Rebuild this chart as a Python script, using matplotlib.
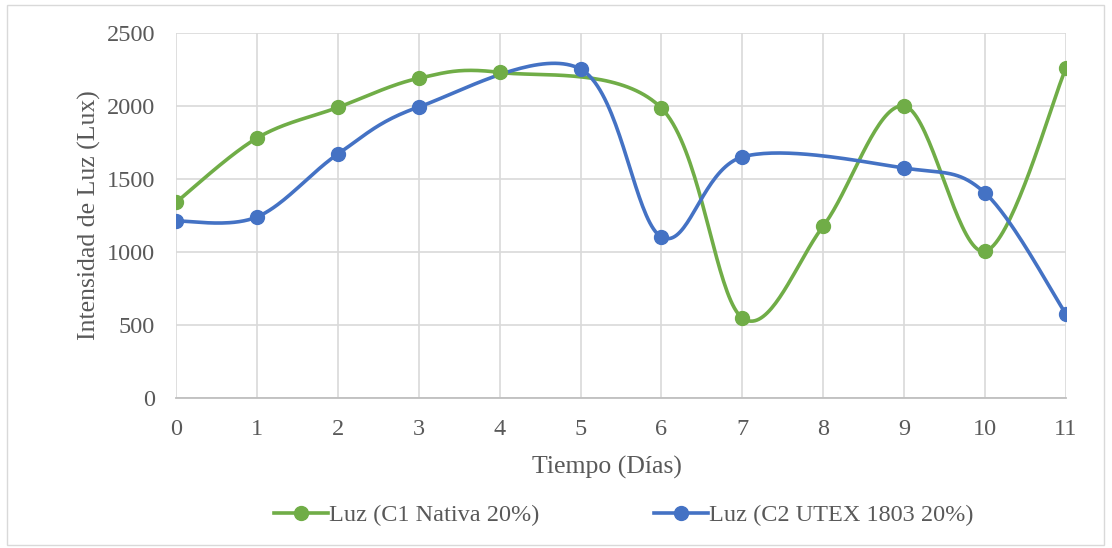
import numpy as np
import matplotlib
matplotlib.use("Agg")
import matplotlib.pyplot as plt
from matplotlib.lines import Line2D
from matplotlib.patches import Rectangle

days = [0, 1, 2, 3, 4, 5, 6, 7, 8, 9, 10, 11]
c1_nativa = [1340, 1780, 1990, 2190, 2230, np.nan, 1985, 548, 1178, 2000, 1005, 2260]
c2_utex = [1212, 1240, 1671, 1993, np.nan, 2253, 1103, 1651, np.nan, 1575, 1404, 575]
y_ticks = [0, 500, 1000, 1500, 2000, 2500]
labels = ["Luz (C1 Nativa 20%)", "Luz (C2 UTEX 1803 20%)"]
colors = ["#70AD47", "#4472C4"]

plt.rcParams['font.family'] = ['Liberation Serif', 'DejaVu Serif']


def smooth(xs, ys, n=40):
    xs = np.asarray(xs, float)
    ys = np.asarray(ys, float)
    m = ~np.isnan(ys)
    xs, ys = xs[m], ys[m]
    px = np.concatenate([[xs[0]], xs, [xs[-1]]])
    py = np.concatenate([[ys[0]], ys, [ys[-1]]])
    ox, oy = [], []
    for i in range(1, len(px) - 2):
        p0 = np.array([px[i - 1], py[i - 1]])
        p1 = np.array([px[i], py[i]])
        p2 = np.array([px[i + 1], py[i + 1]])
        p3 = np.array([px[i + 2], py[i + 2]])
        c1 = p1 + (p2 - p0) / 6.0
        c2 = p2 - (p3 - p1) / 6.0
        t = np.linspace(0, 1, n)[:, None]
        b = ((1 - t) ** 3) * p1 + 3 * ((1 - t) ** 2) * t * c1 + 3 * (1 - t) * t ** 2 * c2 + t ** 3 * p2
        ox.extend(b[:, 0]); oy.extend(b[:, 1])
    return np.array(ox), np.array(oy), xs, ys


fig = plt.figure(figsize=(11.12, 5.48), dpi=100)
ax = fig.add_axes([176 / 1112, 1 - 398 / 548, (1066 - 176) / 1112, (398 - 33) / 548])

for series, col in zip([c1_nativa, c2_utex], colors):
    sx, sy, px, py = smooth(days, series)
    ax.plot(sx, sy, color=col, lw=2.6, solid_capstyle='round', zorder=3)
    ax.plot(px, py, 'o', color=col, ms=10, zorder=4)

ax.set_xlim(0, 11)
ax.set_ylim(0, 2500)
ax.set_xticks(days)
ax.set_yticks(y_ticks)
ax.grid(True, color="#D9D9D9", lw=1.2)
ax.set_axisbelow(True)
for s in ["top", "right", "left"]:
    ax.spines[s].set_visible(False)
ax.spines["bottom"].set_color("#BFBFBF")
ax.spines["bottom"].set_linewidth(1.3)
ax.tick_params(length=0, labelsize=17.5, labelcolor="#595959")
ax.tick_params(axis='y', pad=15)
ax.tick_params(axis='x', pad=15)

fig.text(89 / 1112, 1 - 215 / 548, "Intensidad de Luz (Lux)", fontsize=18.5, color="#595959",
         ha="center", va="center", rotation=90)
fig.text(607 / 1112, 1 - 467 / 548, "Tiempo (Días)", fontsize=18.5, color="#595959",
         ha="center", va="center")

handles = [Line2D([], [], color=c, lw=2.6, marker='o', ms=10) for c in colors]
fig.legend(handles, labels, loc="center", bbox_to_anchor=(624 / 1112, 1 - 515 / 548),
           ncol=2, frameon=False, fontsize=17.5, handlelength=2.2, handletextpad=0.08,
           columnspacing=4.7, labelcolor="#595959", borderpad=0, borderaxespad=0)

fig.patches.append(Rectangle((7 / 1112, 3 / 548), (1104 - 7) / 1112, (543 - 3) / 548,
                             transform=fig.transFigure, fill=False, edgecolor="#D9D9D9", lw=1))

fig.savefig("out.png", dpi=100, facecolor="white")
